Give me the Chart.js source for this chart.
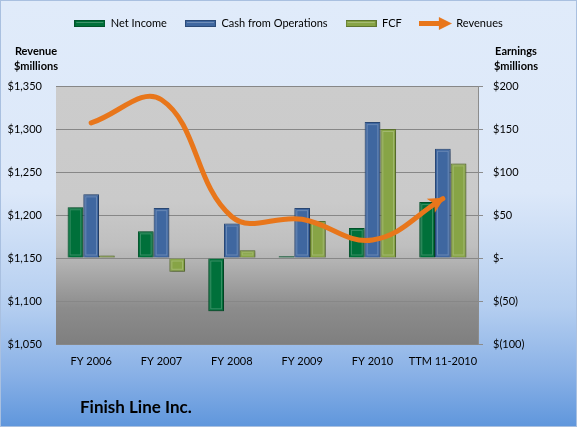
<!DOCTYPE html>
<html>
<head>
<meta charset="utf-8">
<script src="https://cdn.jsdelivr.net/npm/chart.js@4.4.1/dist/chart.umd.min.js"></script>
<style>
  body { margin: 0; }
  #wrap {
    position: relative;
    width: 577px;
    height: 427px;
    background: linear-gradient(to bottom, #e0ebfa 0%, #dce8f9 45%, #b4cef0 72%, #88b0e6 88%, #5f96dc 100%);
    box-shadow: inset 0 0 0 1px #a9c0e0;
    font-family: Lato, "Open Sans", sans-serif;
  }
  #finishChart { position: absolute; left: 0; top: 0; }
  .unit {
    position: absolute;
    width: 60px;
    font-weight: bold;
    font-size: 11px;
    line-height: 15px;
    text-align: center;
    color: #000;
  }
  #unitLeft { left: 6px; top: 43px; }
  #unitRight { left: 486px; top: 43px; }
  #company {
    position: absolute;
    left: 80px;
    top: 396px;
    font-weight: bold;
    font-size: 17px;
    color: #000;
  }
</style>
</head>
<body>
<div id="wrap">
  <canvas id="finishChart" width="577" height="427"></canvas>
  <div class="unit" id="unitLeft">Revenue<br>$millions</div>
  <div class="unit" id="unitRight">Earnings<br>$millions</div>
  <div id="company">Finish Line Inc.</div>
</div>
<script>
const categories = ['FY 2006', 'FY 2007', 'FY 2008', 'FY 2009', 'FY 2010', 'TTM 11-2010'];
const netIncome = [59, 31, -62, 2, 35, 65];
const cashFromOps = [74, 58, 40, 58, 158, 127];
const fcf = [3, -16, 9, 43, 150, 110];
const revenues = [1307, 1334, 1198, 1195, 1171, 1219];

const green = '#00703a', blue = '#3f67a0', olive = '#87a446', orange = '#e8761b';

// small canvases used as legend swatches
function barSwatch(fill, edge) {
  const c = document.createElement('canvas');
  c.width = 31; c.height = 7;
  const g = c.getContext('2d');
  g.fillStyle = edge;
  g.fillRect(0, 0, 31, 7);
  g.fillStyle = fill;
  g.fillRect(1, 1, 29, 5);
  g.fillStyle = 'rgba(255,255,255,0.25)';
  g.fillRect(2, 2, 27, 1);
  return c;
}
function arrowSwatch() {
  const c = document.createElement('canvas');
  c.width = 33; c.height = 13;
  const g = c.getContext('2d');
  g.fillStyle = orange;
  g.fillRect(0, 4, 22, 5);
  g.beginPath();
  g.moveTo(20, 0); g.lineTo(33, 6.5); g.lineTo(20, 13); g.closePath();
  g.fill();
  return c;
}
const swatches = [barSwatch(green, '#00532a'), barSwatch(blue, '#2b4a78'), barSwatch(olive, '#5f7630'), arrowSwatch()];

const plotBackground = {
  id: 'plotBackground',
  beforeDraw(chart) {
    const {ctx, chartArea: a} = chart;
    const grad = ctx.createLinearGradient(0, a.top, 0, a.bottom);
    grad.addColorStop(0, '#cccccc');
    grad.addColorStop(0.45, '#cacaca');
    grad.addColorStop(0.62, '#bfbfbf');
    grad.addColorStop(0.68, '#b3b3b3');
    grad.addColorStop(0.86, '#8c8c8c');
    grad.addColorStop(1, '#7f7f7f');
    ctx.save();
    ctx.fillStyle = grad;
    ctx.fillRect(a.left, a.top, a.right - a.left, a.bottom - a.top);
    ctx.restore();
  }
};

// room above the plot for the legend and the unit labels
const legendSpace = {
  id: 'legendSpace',
  beforeLayout(chart) {
    const lg = chart.legend;
    if (lg && !lg.fitPatched) {
      const fit = lg.fit;
      lg.fit = function () { fit.call(this); this.height = 86; };
      lg.fitPatched = true;
    }
  }
};

const barShadow = {
  id: 'barShadow',
  beforeDatasetDraw(chart, args) {
    if (args.meta.type !== 'bar') return;
    const ctx = chart.ctx;
    ctx.save();
    ctx.shadowColor = 'rgba(0,0,0,0.35)';
    ctx.shadowBlur = 3;
    ctx.shadowOffsetX = 1;
    ctx.shadowOffsetY = 1;
  },
  afterDatasetDraw(chart, args) {
    if (args.meta.type !== 'bar') return;
    const ctx = chart.ctx;
    ctx.restore();
    // faint bevel inside each bar
    ctx.save();
    ctx.strokeStyle = 'rgba(255,255,255,0.22)';
    ctx.lineWidth = 1;
    args.meta.data.forEach((bar) => {
      const top = Math.min(bar.y, bar.base), h = Math.abs(bar.base - bar.y);
      if (h < 5) return;
      ctx.strokeRect(bar.x - bar.width / 2 + 2.5, top + 2.5, bar.width - 5, h - 5);
    });
    ctx.restore();
  }
};

const arrowHead = {
  id: 'arrowHead',
  afterDatasetsDraw(chart) {
    const meta = chart.getDatasetMeta(3);
    const pts = meta.data;
    const end = pts[pts.length - 1];
    const ang = Math.atan2(end.y - end.cp1y, end.x - end.cp1x);
    const ctx = chart.ctx;
    ctx.save();
    ctx.translate(end.x, end.y);
    ctx.rotate(ang);
    ctx.fillStyle = orange;
    ctx.beginPath();
    ctx.moveTo(2, 0);
    ctx.lineTo(-14, -8);
    ctx.lineTo(-10, 0);
    ctx.lineTo(-14, 8);
    ctx.closePath();
    ctx.fill();
    ctx.restore();
  }
};

function earnLabel(v) {
  if (v === 0) return '$-';
  return v < 0 ? '$(' + Math.abs(v) + ')' : '$' + v;
}

const tickFont = {family: 'Lato, "Open Sans", sans-serif', size: 11};

new Chart(document.getElementById('finishChart'), {
  type: 'bar',
  data: {
    labels: categories,
    datasets: [
      {label: 'Net Income', data: netIncome, yAxisID: 'y1', backgroundColor: green, borderColor: '#00532a', borderWidth: 1, order: 1},
      {label: 'Cash from Operations', data: cashFromOps, yAxisID: 'y1', backgroundColor: blue, borderColor: '#2b4a78', borderWidth: 1, order: 1},
      {label: 'FCF', data: fcf, yAxisID: 'y1', backgroundColor: olive, borderColor: '#5f7630', borderWidth: 1, order: 1},
      {label: 'Revenues', type: 'line', data: revenues, yAxisID: 'y', borderColor: orange, borderWidth: 5,
       borderCapStyle: 'round', tension: 0.4, pointRadius: 0, fill: false, order: 0}
    ]
  },
  options: {
    responsive: false,
    animation: false,
    layout: {padding: {top: 0, left: 0, right: 0, bottom: 0}},
    datasets: {bar: {barPercentage: 1, categoryPercentage: 0.67}},
    plugins: {
      tooltip: {enabled: false},
      legend: {
        position: 'top',
        onClick: () => {},
        labels: {
          usePointStyle: true,
          pointStyleWidth: 31,
          padding: 18,
          color: '#000',
          font: tickFont,
          generateLabels: (chart) => chart.data.datasets.map((ds, i) => ({
            text: ds.label,
            pointStyle: swatches[i],
            fillStyle: 'transparent',
            strokeStyle: 'transparent',
            lineWidth: 0,
            hidden: false,
            datasetIndex: i
          }))
        }
      }
    },
    scales: {
      x: {
        grid: {display: false},
        border: {display: false},
        ticks: {color: '#000', font: tickFont, padding: 3, maxRotation: 0, autoSkip: false},
        afterFit: (s) => { s.height = 83; }
      },
      y: {
        position: 'left',
        min: 1050, max: 1350,
        ticks: {stepSize: 50, color: '#000', font: tickFont, padding: 14,
                callback: (v) => '$' + v.toLocaleString('en-US')},
        grid: {color: '#878787', drawTicks: false},
        border: {display: false},
        afterFit: (s) => { s.width = 56; }
      },
      y1: {
        position: 'right',
        min: -100, max: 200,
        ticks: {stepSize: 50, color: '#000', font: tickFont, padding: 10, callback: earnLabel},
        grid: {drawOnChartArea: false, color: '#8c8c8c', tickLength: 5},
        border: {display: true, color: '#8c8c8c'},
        afterFit: (s) => { s.width = 99; }
      }
    }
  },
  plugins: [plotBackground, legendSpace, barShadow, arrowHead]
});
</script>
</body>
</html>
